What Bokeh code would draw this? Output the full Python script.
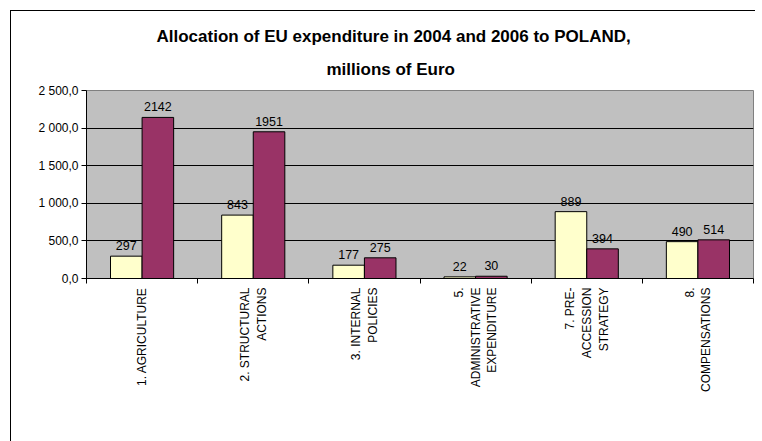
import math
from bokeh.plotting import figure
from bokeh.models import (Range1d, LinearAxis, FixedTicker, Title,
                          ColumnDataSource, LabelSet, Legend, LegendItem)
from bokeh.core.properties import value
from bokeh.transform import dodge
from bokeh.embed import file_html
from bokeh.resources import INLINE

# ---- data ----
categories = ["1. AGRICULTURE", "2. STRUCTURAL ACTIONS", "3. INTERNAL POLICIES",
              "5. ADMINISTRATIVE EXPENDITURE", "7. PRE-ACCESSION STRATEGY", "8. COMPENSATIONS"]
category_labels = ["1. AGRICULTURE", "2. STRUCTURAL\nACTIONS", "3. INTERNAL\nPOLICIES",
                   "5.\nADMINISTRATIVE\nEXPENDITURE", "7. PRE-\nACCESSION\nSTRATEGY", "8.\nCOMPENSATIONS"]
values_2004 = [297, 843, 177, 22, 889, 490]
values_2006 = [2142, 1951, 275, 30, 394, 514]
series_names = ["2004", "2006"]
y_tick_values = [0, 500, 1000, 1500, 2000, 2500]
y_tick_labels = ["0,0", "500,0", "1 000,0", "1 500,0", "2 000,0", "2 500,0"]
title_lines = ["Allocation of EU expenditure in 2004 and 2006 to POLAND,", "millions of Euro"]

FONT = "Liberation Sans"

n = len(categories)
centers = [i + 0.5 for i in range(n)]          # category slot centers on a linear scale
bounds = [i for i in range(n + 1)]             # category slot boundaries

src = ColumnDataSource(dict(
    x=centers,
    v04=values_2004,
    v06=values_2006,
    t04=[str(v) for v in values_2004],
    t06=[str(v) for v in values_2006],
))

p = figure(x_range=Range1d(0, n), y_range=Range1d(0, 2500),
           frame_width=667, frame_height=188, output_backend="svg", toolbar_location=None,
           x_axis_location=None, min_border_left=75, min_border_top=79,
           min_border_right=2, min_border_bottom=0, title=None)
p.margin = (10, 0, 0, 10)
p.styles = {"border-left": "1px solid black", "border-top": "1px solid black"}

p.background_fill_color = "#C0C0C0"
p.border_fill_color = "white"
p.outline_line_color = "#808080"

# title, two centred lines
t2 = Title(text=title_lines[1], align="left", offset=240, standoff=24,
           text_font=FONT, text_font_size="17px", text_font_style="bold", text_color="black")
t1 = Title(text=title_lines[0], align="left", offset=70, standoff=0,
           text_font=FONT, text_font_size="17px", text_font_style="bold", text_color="black")
p.add_layout(t2, "above")
p.add_layout(t1, "above")

# bars
bw = 0.284
r04 = p.vbar(x=dodge("x", -bw / 2), top="v04", width=bw, source=src,
             fill_color="#FFFFCC", line_color="black", line_width=1)
r06 = p.vbar(x=dodge("x", bw / 2), top="v06", width=bw, source=src,
             fill_color="#993366", line_color="black", line_width=1)

for col, txt, off in (("v04", "t04", -bw / 2), ("v06", "t06", bw / 2)):
    p.add_layout(LabelSet(x=dodge("x", off), y=col, text=txt, source=src,
                          text_align="center", text_baseline="alphabetic", y_offset=6,
                          text_font=value(FONT), text_font_size=value("12.5px"),
                          text_color="black"))

# y axis
p.yaxis.ticker = FixedTicker(ticks=y_tick_values)
p.yaxis.major_label_overrides = {v: l for v, l in zip(y_tick_values, y_tick_labels)}
p.yaxis.minor_tick_line_color = None
p.yaxis.major_tick_in = 0
p.yaxis.major_tick_out = 5
p.yaxis.major_label_standoff = 3
p.yaxis.axis_line_color = "black"
p.yaxis.major_label_text_font = FONT
p.yaxis.major_label_text_font_size = "12px"
p.yaxis.major_label_text_color = "black"

p.xgrid.visible = False
p.ygrid.ticker = FixedTicker(ticks=y_tick_values)
p.ygrid.grid_line_color = "black"

# x axis: boundary ticks (no labels)
tick_axis = LinearAxis(ticker=FixedTicker(ticks=bounds),
                       major_label_overrides={b: "" for b in bounds},
                       minor_tick_line_color=None,
                       major_tick_in=0, major_tick_out=5, major_label_standoff=0,
                       axis_line_color="black", major_tick_line_color="black")
p.add_layout(tick_axis, "below")

# x axis: category names at slot centers
cat_axis = LinearAxis(ticker=FixedTicker(ticks=centers),
                      axis_line_color=None, major_tick_line_color=None,
                      minor_tick_line_color=None, major_label_orientation=math.pi / 2,
                      major_label_standoff=4, major_tick_in=0, major_tick_out=0,
                      major_label_text_font=FONT, major_label_text_font_size="12px",
                      major_label_text_color="black",
                      major_label_overrides={c: l for c, l in zip(centers, category_labels)})
p.add_layout(cat_axis, "below")

legend = Legend(items=[LegendItem(label=series_names[0], renderers=[r04]),
                       LegendItem(label=series_names[1], renderers=[r06])],
                orientation="horizontal", location="top_center",
                border_line_color="black", border_line_width=1,
                padding=3, spacing=6, margin=6,
                glyph_width=9, glyph_height=9, label_standoff=2,
                label_height=12, label_width=20,
                label_text_font=FONT, label_text_font_size="13px")
p.add_layout(legend, "below")

open("out.html", "w").write(file_html(p, INLINE))
